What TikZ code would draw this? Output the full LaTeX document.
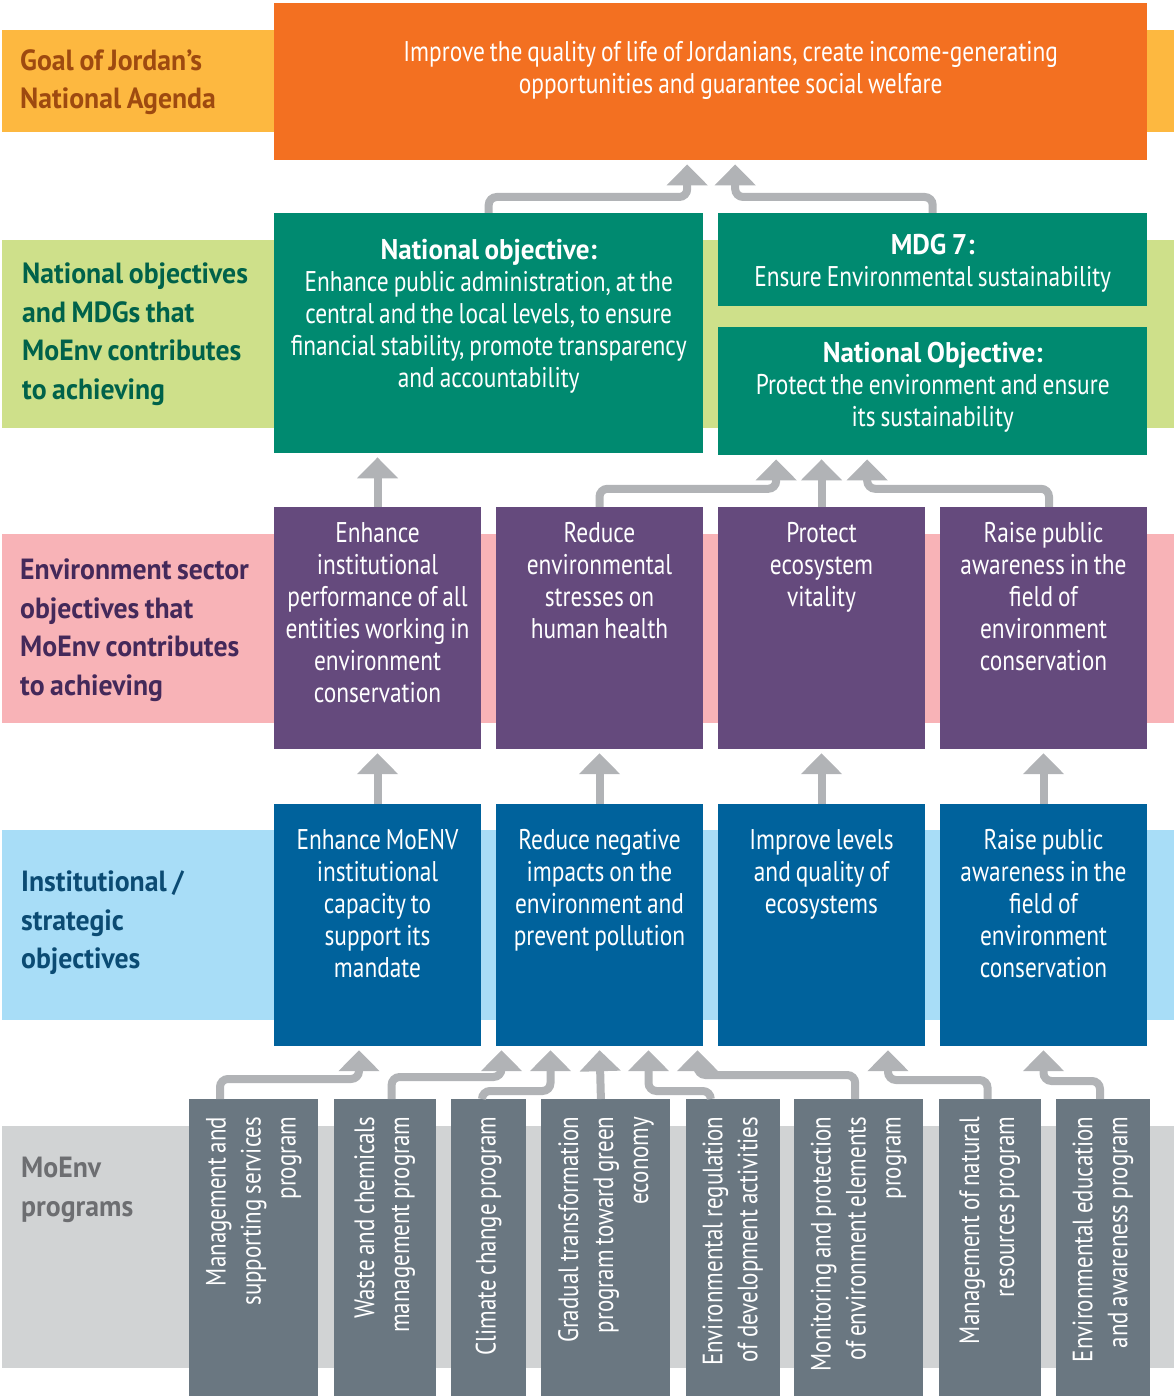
\documentclass[tikz,border=0pt]{standalone}
\usepackage{fontspec}
\setmainfont{PT Sans}[FakeStretch=0.82, WordSpace=0.8, BoldFeatures={FakeStretch=0.95}]
\usetikzlibrary{positioning,arrows.meta}

\definecolor{goalorange}{HTML}{F37021}
\definecolor{goalband}{HTML}{FDB840}
\definecolor{goaltext}{HTML}{9E4A10}
\definecolor{natgreen}{HTML}{008A70}
\definecolor{natband}{HTML}{CEE08A}
\definecolor{nattext}{HTML}{00624A}
\definecolor{secpurple}{HTML}{654A7D}
\definecolor{secband}{HTML}{F8B3B7}
\definecolor{sectext}{HTML}{44295A}
\definecolor{instblue}{HTML}{00629C}
\definecolor{instband}{HTML}{A8DDF7}
\definecolor{insttext}{HTML}{0B4B73}
\definecolor{proggrey}{HTML}{6A7781}
\definecolor{progband}{HTML}{D1D3D4}
\definecolor{progtext}{HTML}{6D6E71}
\definecolor{arrowgrey}{HTML}{B1B3B6}

\newcommand{\progtxt}[1]{\rotatebox{90}{\parbox{262pt}{\raggedleft #1}}}

\tikzset{
  rowlabel/.style={anchor=west, align=flush left, inner sep=0pt, font=\fontsize{29.2}{38.5}\selectfont\bfseries},
  box/.style={text=white, align=flush center, inner xsep=0pt, inner ysep=0pt, font=\fontsize{28.5}{32}\selectfont},
  goalbox/.style={box, fill=goalorange, anchor=north west, text width=873pt, text height=58pt, text depth=99pt},
  natbox/.style={box, fill=natgreen, anchor=north west, text width=429pt},
  secbox/.style={box, fill=secpurple, text width=207pt, text height=35pt, text depth=207pt},
  instbox/.style={box, fill=instblue, text width=207pt, text height=45pt, text depth=197pt},
  progbox/.style={fill=proggrey, text=white, anchor=north west, minimum height=297pt, inner sep=0pt, font=\fontsize{28}{35}\selectfont},
  conn/.style={arrowgrey, draw, line width=8pt, rounded corners=8pt, -{Triangle[width=40pt,length=21pt]}, shorten >=4pt},
}

\begin{document}
\begin{tikzpicture}[x=1pt, y=-1pt, node distance=222pt]
    \useasboundingbox (0,0) rectangle (1174,1396);

    \fill[goalband] (2,30) rectangle (1174,132);
    \fill[natband] (2,240) rectangle (1174,428);
    \fill[secband] (2,534) rectangle (1174,723);
    \fill[instband] (2,830) rectangle (1174,1020);
    \fill[progband] (2,1126) rectangle (1174,1368);

    \node (lgoal) [rowlabel, text=goaltext] at (20,82) {Goal of Jordan’s\\National Agenda};
    \node (lnat) [rowlabel, text=nattext] at (22,334) {National objectives\\and MDGs that\\MoEnv contributes\\to achieving};
    \node (lsec) [rowlabel, text=sectext] at (20,630) {Environment sector\\objectives that\\MoEnv contributes\\to achieving};
    \node (linst) [rowlabel, text=insttext] at (21,923) {Institutional /\\strategic\\objectives};
    \node (lprog) [rowlabel, text=progtext] at (21,1190) {MoEnv\\programs};

    \node (goal) [goalbox] at (274,3) {\hspace*{40pt}Improve the quality of life of Jordanians, create income-generating\\\hspace*{40pt}opportunities and guarantee social welfare};

    \node (natadm) [natbox, text height=46pt, text depth=194pt] at (274,213) {\textbf{National objective:}\\Enhance public administration, at the\\central and the local levels, to ensure\\financial stability, promote transparency\\and accountability};
    \node (mdg) [natbox, text height=41pt, text depth=52pt] at (718,213) {\textbf{MDG 7:}\\Ensure Environmental sustainability};
    \node (natenv) [natbox, text height=35pt, text depth=93pt] at (718,327) {\textbf{National Objective:}\\Protect the environment and ensure\\its sustainability};

    \node (s1) [secbox] at (377.5,628) {Enhance\\institutional\\performance of all\\entities working in\\environment\\conservation};
    \node (s2) [secbox, right of=s1] {Reduce\\environmental\\stresses on\\human health};
    \node (s3) [secbox, right of=s2] {Protect\\ecosystem\\vitality};
    \node (s4) [secbox, right of=s3] {Raise public\\awareness in the\\field of\\environment\\conservation};

    \node (b1) [instbox] at (377.5,925) {Enhance MoENV\\institutional\\capacity to\\support its\\mandate};
    \node (b2) [instbox, right of=b1] {Reduce negative\\impacts on the\\environment and\\prevent pollution};
    \node (b3) [instbox, right of=b2] {Improve levels\\and quality of\\ecosystems};
    \node (b4) [instbox, right of=b3] {Raise public\\awareness in the\\field of\\environment\\conservation};

    \node (p1) [progbox, minimum width=129pt] at (189,1099) {\progtxt{Management and\\supporting services\\program}};
    \node (p2) [progbox, minimum width=102pt, right=15pt of p1] {\progtxt{Waste and chemicals\\management program}};
    \node (p3) [progbox, minimum width=75pt, right=15pt of p2] {\progtxt{Climate change program}};
    \node (p4) [progbox, minimum width=129pt, right=15pt of p3] {\progtxt{Gradual transformation\\program toward green\\economy}};
    \node (p5) [progbox, minimum width=94pt, right=15pt of p4] {\progtxt{Environmental regulation\\of development activities}};
    \node (p6) [progbox, minimum width=129pt, right=14pt of p5] {\progtxt{Monitoring and protection\\of environment elements\\program}};
    \node (p7) [progbox, minimum width=102pt, right=15pt of p6] {\progtxt{Management of natural\\resources program}};
    \node (p8) [progbox, minimum width=94pt, right=15pt of p7] {\progtxt{Environmental education\\and awareness program}};

    \draw[conn] (natadm.north) -- ++(0,-16) -| ([xshift=-23.5pt]goal.south);
    \draw[conn] (mdg.north) -- ++(0,-16) -| ([xshift=24.5pt]goal.south);

    \path[conn] (s1) edge (s1 |- natadm.south);
    \draw[conn] (s2.north) -- ++(0,-18) -| ([xshift=-156.5pt]natenv.south);
    \path[conn] (s3) edge (s3 |- natenv.south);
    \draw[conn] ([xshift=5.5pt]s4.north) -- ++(0,-18) -| ([xshift=-65.5pt]natenv.south);

    \path[conn] (b1) edge (s1);
    \path[conn] (b2) edge (s2);
    \path[conn] (b3) edge (s3);
    \path[conn] (b4) edge (s4);

    \draw[conn] ([xshift=31pt]p1.north west) -- ++(0,-20) -| ([xshift=-18.5pt]b1.south);
    \draw[conn] ([xshift=7pt]p2.north) -- ++(0,-22) -| ([xshift=-98pt]b2.south);
    \draw[conn] ([xshift=-6.5pt]p3.north) -- ++(0,-8) -| ([xshift=-49pt]b2.south);
    \draw[conn] ([xshift=-5pt]p4.north) -- (b2.south);
    \draw[conn] ([xshift=-22pt]p5.north) -- ++(0,-8) -| ([xshift=49pt]b2.south);
    \draw[conn] ([xshift=-3.5pt]p6.north) -- ++(0,-24) -| ([xshift=98pt]b2.south);
    \draw[conn] ([xshift=-2pt]p7.north) -- ++(0,-19) -| ([xshift=66.5pt]b3.south);
    \draw[conn] ([xshift=-3pt]p8.north) -- ++(0,-18) -| (b4.south);
  \end{tikzpicture}
\end{document}
